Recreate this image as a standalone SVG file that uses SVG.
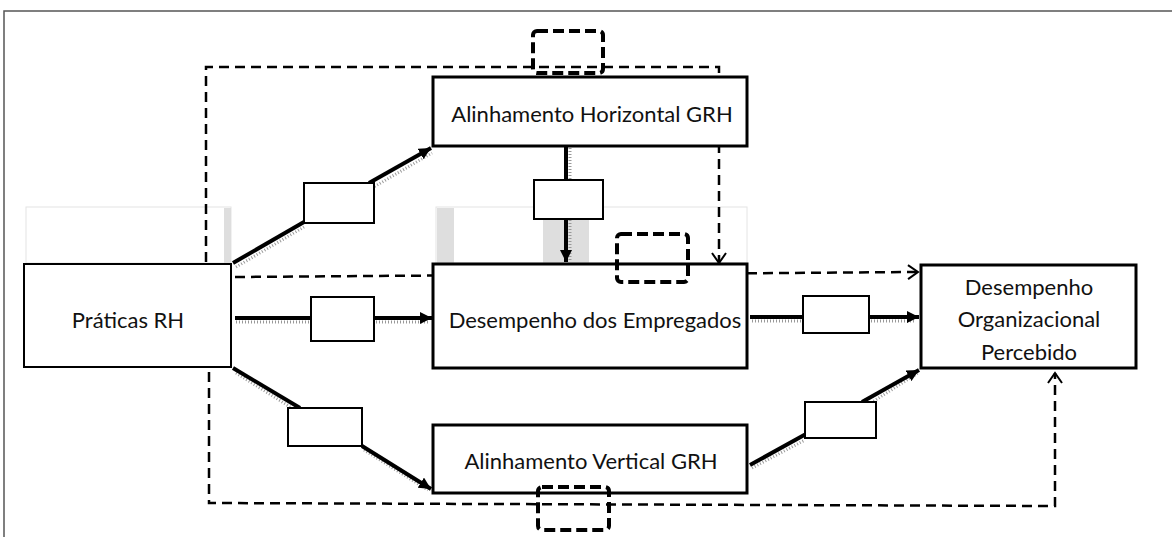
<svg xmlns="http://www.w3.org/2000/svg" width="1172" height="537" viewBox="0 0 1172 537">
  <defs>
    <style>
      .node { fill: #fff; stroke: #000; stroke-width: 3; }
      .thin { fill: #fff; stroke: #000; stroke-width: 2; }
      .label { fill: #fff; stroke: #000; stroke-width: 2; }
      .txt { font-family: Lato, "Open Sans", sans-serif; font-size: 22px; fill: #111; text-anchor: middle; }
      .solid { fill: none; stroke: #000; stroke-width: 4; }
      .shadow { fill: none; stroke: #999; stroke-width: 3; stroke-dasharray: 1 2; }
      .dash { fill: none; stroke: #000; stroke-width: 2.5; stroke-dasharray: 10 6; }
      .dbox { fill: none; stroke: #000; stroke-width: 4; stroke-dasharray: 11 5; }
      .bg { fill: #fff; stroke: #e4e4e4; stroke-width: 1; }
      .strip { fill: #dedede; }
    </style>
    <marker id="head" markerUnits="userSpaceOnUse" markerWidth="14" markerHeight="12" refX="12" refY="6" orient="auto">
      <path d="M0,0 L12,6 L0,12 Z" fill="#000"/>
    </marker>
    <marker id="open" markerUnits="userSpaceOnUse" markerWidth="14" markerHeight="16" refX="11" refY="8" orient="auto">
      <path d="M1,1 L11,8 L1,15" fill="none" stroke="#000" stroke-width="2"/>
    </marker>
  </defs>

  <!-- page frame -->
  <path d="M4,537 V11 H1172" fill="none" stroke="#555" stroke-width="1.5"/>

  <!-- pale background panels -->
  <g id="panels">
    <rect class="bg" x="26" y="207" width="205" height="56"/>
    <rect class="strip" x="224" y="208" width="7" height="55"/>
    <rect class="bg" x="436" y="207" width="311" height="56"/>
    <rect class="strip" x="437" y="208" width="17" height="55"/>
    <rect class="strip" x="543" y="208" width="46" height="55"/>
  </g>

  <!-- connectors -->
  <g id="connectors">
    <!-- shadows under solid arrows -->
    <path class="shadow" d="M236,267 L304,227 M372,188 L432,153"/>
    <path class="shadow" d="M236,322 H311 M376,322 H430"/>
    <path class="shadow" d="M752,321 H803 M871,321 H916"/>
    <path class="shadow" d="M236,373 L295,410 M364,450 L428,490"/>
    <path class="shadow" d="M752,468 L805,440 M866,406 L918,373"/>
    <path class="shadow" d="M570,148 V180 M570,220 V262"/>

    <!-- Práticas RH -> Alinhamento Horizontal GRH -->
    <path class="solid" d="M233,263 L304,222"/>
    <path class="solid" d="M369,183 L431,148" marker-end="url(#head)"/>
    <!-- Práticas RH -> Desempenho dos Empregados -->
    <path class="solid" d="M235,318 H311"/>
    <path class="solid" d="M374,318 H432" marker-end="url(#head)"/>
    <!-- Práticas RH -> Alinhamento Vertical GRH -->
    <path class="solid" d="M233,368 L300,408"/>
    <path class="solid" d="M362,446 L431,489" marker-end="url(#head)"/>
    <!-- Alinhamento Horizontal GRH -> Desempenho dos Empregados -->
    <path class="solid" d="M566,146 V180"/>
    <path class="solid" d="M566,219 V262" marker-end="url(#head)"/>
    <!-- Desempenho dos Empregados -> Desempenho Organizacional Percebido -->
    <path class="solid" d="M750,317 H803"/>
    <path class="solid" d="M869,317 H919" marker-end="url(#head)"/>
    <!-- Alinhamento Vertical GRH -> Desempenho Organizacional Percebido -->
    <path class="solid" d="M750,465 L806,434"/>
    <path class="solid" d="M862,402 L919,370" marker-end="url(#head)"/>

    <!-- dashed links -->
    <path class="dash" d="M206,262 V67 H719 V263" marker-end="url(#open)"/>
    <path class="dash" d="M235,277 L918,272" marker-end="url(#open)"/>
    <path class="dash" d="M209,372 V503 L1055,506 V373" marker-end="url(#open)"/>
  </g>

  <!-- nodes -->
  <g id="praticas-rh">
    <rect class="thin" x="24" y="264" width="207" height="103"/>
    <text class="txt" x="128" y="328">Práticas RH</text>
  </g>

  <g id="alinhamento-horizontal">
    <rect class="node" x="433" y="77" width="314" height="69"/>
    <text class="txt" x="592" y="122">Alinhamento Horizontal GRH</text>
  </g>

  <g id="desempenho-empregados">
    <rect class="node" x="433" y="264" width="314" height="104"/>
    <text class="txt" x="595" y="328">Desempenho dos Empregados</text>
  </g>

  <g id="alinhamento-vertical">
    <rect class="node" x="433" y="425" width="314" height="68"/>
    <text class="txt" x="591" y="469">Alinhamento Vertical GRH</text>
  </g>

  <g id="desempenho-organizacional">
    <rect class="node" x="921" y="265" width="215" height="103"/>
    <text class="txt" x="1029" y="295">Desempenho</text>
    <text class="txt" x="1029" y="327">Organizacional</text>
    <text class="txt" x="1029" y="360">Percebido</text>
  </g>

  <!-- empty path labels -->
  <g id="labels">
    <rect class="label" x="304" y="183" width="70" height="40"/>
    <rect class="label" x="311" y="297" width="63" height="44"/>
    <rect class="label" x="288" y="408" width="74" height="38"/>
    <rect class="label" x="534" y="180" width="69" height="39"/>
    <rect class="label" x="803" y="296" width="66" height="37"/>
    <rect class="label" x="805" y="402" width="71" height="36"/>
  </g>

  <!-- dashed moderator boxes -->
  <g id="moderators">
    <rect class="dbox" x="533" y="31" width="70" height="42" rx="4"/>
    <rect class="dbox" x="617" y="234" width="71" height="48" rx="4"/>
    <rect class="dbox" x="538" y="487" width="71" height="43" rx="4"/>
  </g>
</svg>
